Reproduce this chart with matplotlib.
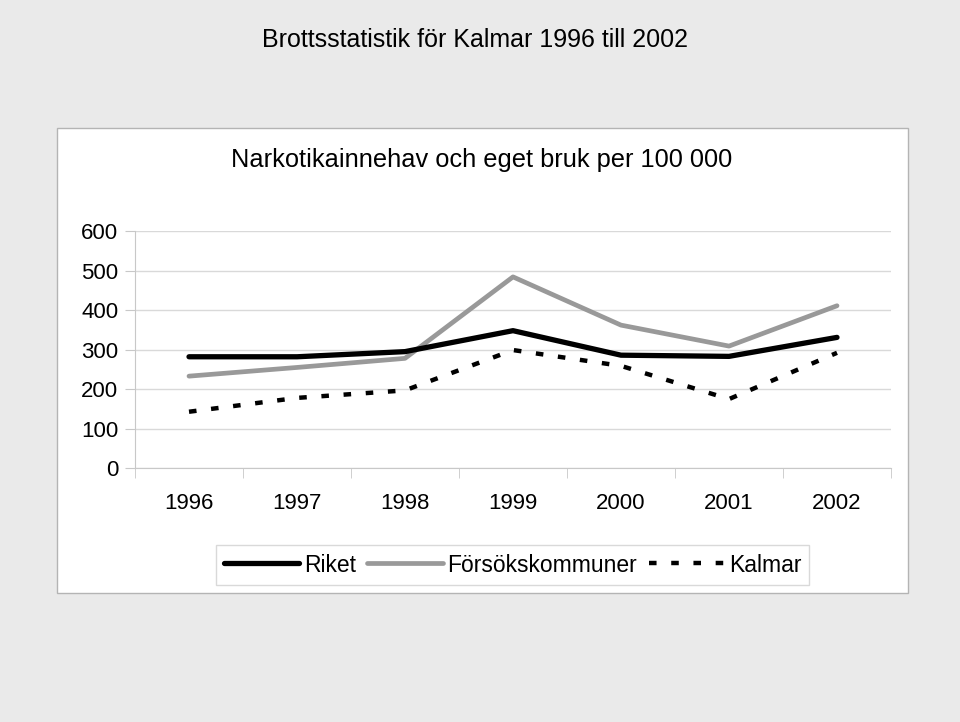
import matplotlib
matplotlib.use('Agg')
import matplotlib.pyplot as plt
from matplotlib.patches import Rectangle
import numpy as np

plt.rcParams['font.family'] = ['Liberation Sans', 'DejaVu Sans']

years = ['1996', '1997', '1998', '1999', '2000', '2001', '2002']
riket = [282, 282, 295, 348, 286, 283, 331]
forsok = [233, 255, 278, 484, 362, 309, 411]
kalmar = [143, 178, 197, 299, 259, 175, 292]

fig = plt.figure(figsize=(9.6, 7.22), dpi=100)
fig.patch.set_facecolor('#eaeaea')

# white chart panel
panel = Rectangle((57 / 960, 1 - 593 / 722), (908 - 57) / 960, (593 - 128) / 722,
                  transform=fig.transFigure, facecolor='white', edgecolor='#b4b4b4',
                  linewidth=1.0, zorder=-5)
fig.patches.append(panel)

fig.text(475 / 960, 1 - 40 / 722, 'Brottsstatistik för Kalmar 1996 till 2002',
         ha='center', va='center', fontsize=18)
fig.text(482 / 960, 1 - 160 / 722, 'Narkotikainnehav och eget bruk per 100 000',
         ha='center', va='center', fontsize=18.3)

ax = fig.add_axes([135 / 960, 1 - 468.3 / 722, 756 / 960, 237.3 / 722])
ax.set_facecolor('white')
x = np.arange(len(years))

ax.plot(x, riket, color='black', linewidth=3.8, solid_capstyle='round', label='Riket', zorder=3)
ax.plot(x, forsok, color='#999999', linewidth=3.4, solid_capstyle='round', label='Försökskommuner', zorder=2)
ax.plot(x, kalmar, color='black', linewidth=3.2, dashes=(1.7, 3.3), label='Kalmar', zorder=4)

ax.set_xlim(-0.5, 6.5)
ax.set_ylim(0, 600)
ax.set_yticks(range(0, 601, 100))
ax.set_xticks(x)
ax.set_xticklabels(years)
ax.set_xticks(np.arange(-0.5, 6.6, 1), minor=True)
ax.tick_params(axis='x', which='major', length=0, pad=18, labelsize=16)
ax.tick_params(axis='x', which='minor', length=7, color='#c8c8c8', direction='out')
ax.tick_params(axis='y', length=7, color='#c8c8c8', pad=5, labelsize=16)
ax.yaxis.grid(True, color='#d9d9d9', linewidth=1.0)
ax.set_axisbelow(True)
for s in ['top', 'right']:
    ax.spines[s].set_visible(False)
ax.spines['left'].set_color('#c8c8c8')
ax.spines['bottom'].set_color('#c8c8c8')

leg = fig.legend(loc='center', bbox_to_anchor=(512.5 / 960, 1 - 565 / 722), ncol=3,
                 fontsize=16.5, frameon=True, fancybox=False, handlelength=3.3,
                 handletextpad=0.2, columnspacing=0.5, borderpad=0.35)
leg.get_frame().set_edgecolor('#d0d0d0')
leg.get_frame().set_linewidth(1.0)

fig.savefig('out.png', dpi=100, facecolor=fig.get_facecolor())
